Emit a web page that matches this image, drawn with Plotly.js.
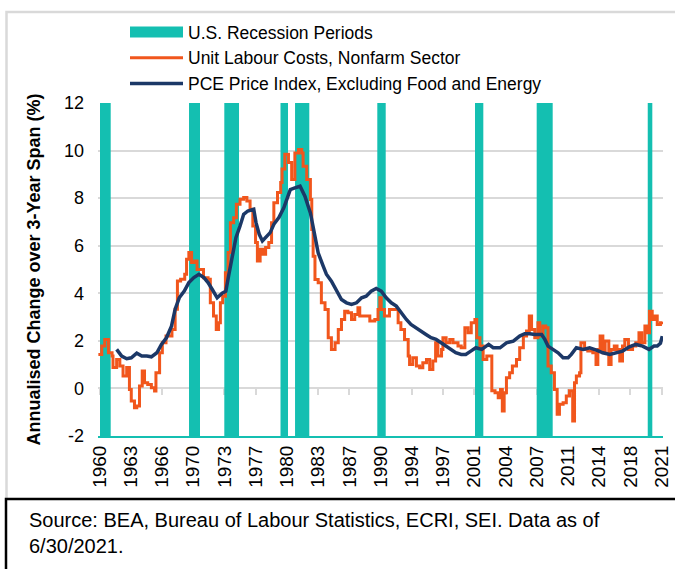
<!DOCTYPE html>
<html>
<head>
<meta charset="utf-8">
<script src="https://cdn.plot.ly/plotly-3.0.1.min.js"></script>
<style>
  html, body { margin: 0; padding: 0; background: #ffffff; }
  #chart { width: 675px; height: 569px; }
</style>
</head>
<body>
<div id="chart"></div>
<script>
// ---- Data ----
const recessionStart = [1960.18, 1969.92, 1973.78, 1979.93, 1981.52, 1990.52, 2001.21, 2007.96, 2020.11];
const recessionEnd   = [1961.35, 1971.12, 1975.39, 1980.75, 1983.08, 1991.44, 2002.12, 2009.71, 2020.61];

const ulcYears = [1960.0, 1960.37, 1960.7, 1961.1, 1961.5, 1961.6, 1962.0, 1962.35, 1962.7, 1963.1, 1963.4, 1963.6, 1963.95, 1964.2, 1964.5, 1964.8, 1965.05, 1965.4, 1965.8, 1966.15, 1966.3, 1966.7, 1967.0, 1967.4, 1967.75, 1968.05, 1968.4, 1968.65, 1969.0, 1969.45, 1969.65, 1969.9, 1970.2, 1970.55, 1970.8, 1971.15, 1971.5, 1972.0, 1972.25, 1972.6, 1972.9, 1973.15, 1973.35, 1973.6, 1973.9, 1974.2, 1974.45, 1974.8, 1975.1, 1975.5, 1975.9, 1976.25, 1976.6, 1976.9, 1977.2, 1977.4, 1977.7, 1978.0, 1978.3, 1978.65, 1978.95, 1979.2, 1979.6, 1979.95, 1980.1, 1980.4, 1980.8, 1981.15, 1981.5, 1981.9, 1982.25, 1982.4, 1982.8, 1983.2, 1983.35, 1983.5, 1983.7, 1984.05, 1984.4, 1984.8, 1985.15, 1985.5, 1985.9, 1986.25, 1986.6, 1986.95, 1987.3, 1987.7, 1988.05, 1988.4, 1988.6, 1989.15, 1989.7, 1990.25, 1990.6, 1990.8, 1990.95, 1991.3, 1991.7, 1991.85, 1992.4, 1992.8, 1993.1, 1993.5, 1993.9, 1994.05, 1994.4, 1994.8, 1995.15, 1995.5, 1995.9, 1996.25, 1996.6, 1996.9, 1997.15, 1997.55, 1997.7, 1998.05, 1998.45, 1998.8, 1999.35, 1999.7, 2000.1, 2000.45, 2000.8, 2001.2, 2001.4, 2001.75, 2002.1, 2002.5, 2002.85, 2003.05, 2003.4, 2003.75, 2004.0, 2004.2, 2004.4, 2004.65, 2005.0, 2005.3, 2005.75, 2006.1, 2006.5, 2006.85, 2007.15, 2007.4, 2007.75, 2008.1, 2008.3, 2008.65, 2008.95, 2009.2, 2009.55, 2009.9, 2010.2, 2010.45, 2010.85, 2011.2, 2011.55, 2011.9, 2012.1, 2012.3, 2012.65, 2012.8, 2013.2, 2013.55, 2014.1, 2014.45, 2014.65, 2014.9, 2015.2, 2015.45, 2015.85, 2016.1, 2016.45, 2016.75, 2017.05, 2017.35, 2017.6, 2018.0, 2018.45, 2018.8, 2019.15, 2019.45, 2019.8, 2020.05, 2020.3, 2020.6, 2020.9, 2021.15, 2021.5, 2021.7];
const ulcValues = [1.43, 1.78, 2.06, 1.5, 1.36, 0.88, 1.22, 0.94, 0.52, 0.88, -0.04, -0.53, -0.81, -0.74, 0.1, 0.73, 0.24, 0.17, 0.03, -0.11, 0.66, 1.5, 1.92, 2.2, 2.2, 2.48, 3.33, 4.52, 4.59, 4.8, 5.43, 5.71, 5.29, 5.36, 5.0, 5.0, 4.65, 4.59, 3.6, 3.04, 2.48, 2.76, 3.6, 3.88, 4.86, 5.71, 6.97, 7.18, 7.74, 7.95, 8.03, 7.88, 7.53, 6.83, 6.13, 5.36, 5.85, 5.64, 5.92, 6.13, 6.97, 7.81, 8.24, 8.66, 9.22, 9.85, 9.5, 8.78, 9.9, 10.04, 9.9, 9.34, 8.78, 7.94, 6.68, 5.56, 4.58, 4.44, 3.6, 3.32, 2.13, 1.64, 1.92, 2.48, 2.9, 3.25, 3.18, 2.9, 3.11, 3.39, 3.04, 3.04, 2.83, 2.9, 3.32, 3.81, 3.32, 3.04, 3.04, 3.32, 3.32, 2.76, 2.48, 2.06, 1.36, 1.01, 1.29, 0.94, 0.87, 1.08, 1.22, 0.8, 1.15, 1.92, 1.36, 1.64, 2.13, 1.92, 2.06, 1.92, 1.78, 1.71, 2.55, 2.34, 2.76, 2.9, 2.13, 1.78, 1.22, 1.36, 1.36, -0.1, -0.18, -0.39, -0.04, -0.95, -0.18, 0.45, 0.66, 0.94, 1.22, 1.71, 2.2, 2.41, 3.04, 2.48, 2.13, 2.76, 2.2, 2.62, 2.55, 0.94, 0.66, -0.04, -1.09, -0.67, -0.6, -0.32, -0.1, -1.37, 0.24, 0.52, 0.66, 1.92, 1.64, 1.57, 1.5, 1.01, 1.64, 2.2, 1.5, 1.99, 1.01, 1.64, 1.78, 1.64, 1.15, 1.78, 2.06, 1.64, 1.78, 1.92, 2.34, 1.92, 2.62, 2.34, 3.25, 2.9, 3.04, 2.69, 2.76, 2.8];

const pceYears = [1962.0, 1962.55, 1963.1, 1963.6, 1964.2, 1964.75, 1965.3, 1965.8, 1966.4, 1966.9, 1967.45, 1968.0, 1968.4, 1968.85, 1969.4, 1969.9, 1970.45, 1971.0, 1971.55, 1972.0, 1972.45, 1973.0, 1973.55, 1973.95, 1974.25, 1974.7, 1975.05, 1975.5, 1975.9, 1976.35, 1977.0, 1977.25, 1977.6, 1977.95, 1978.45, 1978.8, 1979.2, 1979.75, 1980.3, 1980.75, 1981.0, 1981.5, 1982.07, 1982.6, 1983.2, 1983.7, 1984.05, 1984.6, 1984.95, 1985.5, 1986.05, 1986.6, 1987.15, 1987.7, 1988.25, 1988.8, 1989.3, 1989.85, 1990.4, 1990.95, 1991.5, 1992.05, 1992.6, 1993.1, 1993.7, 1994.2, 1994.8, 1995.3, 1995.85, 1996.4, 1996.95, 1997.5, 1998.05, 1998.6, 1999.1, 1999.7, 2000.2, 2000.75, 2001.3, 2001.95, 2002.7, 2003.2, 2003.95, 2004.65, 2005.4, 2006.1, 2006.65, 2007.2, 2007.75, 2008.5, 2008.85, 2009.2, 2009.75, 2010.3, 2010.85, 2011.4, 2011.75, 2012.3, 2013.05, 2013.75, 2014.5, 2015.2, 2015.95, 2016.65, 2017.35, 2018.1, 2018.8, 2019.55, 2020.25, 2020.8, 2021.15, 2021.5, 2021.7];
const pceValues = [1.64, 1.36, 1.25, 1.29, 1.48, 1.36, 1.36, 1.33, 1.5, 1.85, 2.13, 2.62, 3.33, 3.81, 4.09, 4.45, 4.66, 4.8, 4.66, 4.45, 4.17, 3.81, 4.0, 4.09, 4.73, 5.71, 6.34, 6.83, 7.32, 7.46, 7.53, 6.97, 6.48, 6.2, 6.41, 6.55, 6.9, 7.18, 7.6, 8.1, 8.36, 8.43, 8.5, 8.08, 7.38, 6.39, 5.7, 5.14, 4.8, 4.51, 4.09, 3.74, 3.6, 3.53, 3.6, 3.81, 3.88, 4.09, 4.2, 4.09, 3.81, 3.6, 3.46, 3.18, 2.9, 2.69, 2.55, 2.41, 2.27, 2.13, 2.06, 1.92, 1.78, 1.61, 1.5, 1.43, 1.43, 1.57, 1.71, 1.64, 1.85, 1.71, 1.71, 1.92, 1.99, 2.2, 2.3, 2.3, 2.27, 2.27, 2.06, 1.78, 1.64, 1.5, 1.29, 1.29, 1.43, 1.71, 1.64, 1.71, 1.61, 1.5, 1.43, 1.5, 1.57, 1.75, 1.85, 1.78, 1.64, 1.78, 1.78, 1.9, 2.2];

const xTickLabels = ["1960", "1963", "1966", "1970", "1973", "1977", "1980", "1983", "1987", "1990", "1994", "1997", "2001", "2004", "2007", "2011", "2014", "2018", "2021"];
const yTickValues = [-2, 0, 2, 4, 6, 8, 10, 12];
const yTickLabels = ["-2", "0", "2", "4", "6", "8", "10", "12"];

// ---- Build traces ----
const Y_MIN = -2, Y_MAX = 12;
const recX = [], recY = [];
recessionStart.forEach((s, i) => {
  const e = recessionEnd[i];
  recX.push(s, s, e, e, s, null);
  recY.push(Y_MIN, Y_MAX, Y_MAX, Y_MIN, Y_MIN, null);
});

// tick positions every 41 months, starting at the first label
const tickVals = xTickLabels.map((_, k) => 1960.13 + k * 41 / 12);

const TEAL = '#14BFB1';
const ORANGE = '#F1561C';
const NAVY = '#1C3867';
const GRID = '#D9D9D9';
const FONT = 'Liberation Sans, Arial, sans-serif';

const traces = [
  {
    type: 'scatter', mode: 'lines', x: recX, y: recY,
    fill: 'toself', fillcolor: TEAL, line: {width: 0, color: TEAL},
    name: 'U.S. Recession Periods', hoverinfo: 'skip'
  },
  {
    type: 'scatter', mode: 'lines', x: ulcYears, y: ulcValues,
    line: {color: ORANGE, width: 3, shape: 'hv'},
    name: 'Unit Labour Costs, Nonfarm Sector'
  },
  {
    type: 'scatter', mode: 'lines', x: pceYears, y: pceValues,
    line: {color: NAVY, width: 3.5},
    name: 'PCE Price Index, Excluding Food and Energy'
  },
  {
    // invisible trace to activate the zero-line axis
    type: 'scatter', mode: 'lines', x: [recessionStart[0]], y: [0],
    xaxis: 'x2', showlegend: false, hoverinfo: 'skip', line: {width: 0}
  }
];

const X_RANGE = [1959.96, 2021.78];
// plot area geometry (px) for paper-coordinate decorations
const L = 98, R = 663, T = 103, B = 436;
const px = v => (v - L) / (R - L);
const py = v => (B - v) / (B - T);

const layout = {
  width: 675, height: 569,
  margin: {l: 98, r: 12, t: 103, b: 133},
  paper_bgcolor: '#ffffff', plot_bgcolor: '#ffffff',
  font: {family: FONT, color: '#000000', size: 16},
  showlegend: true,
  legend: {
    x: px(125), y: py(14), xanchor: 'left', yanchor: 'top',
    bgcolor: 'rgba(0,0,0,0)', font: {size: 17.5, family: FONT},
    itemwidth: 53, tracegroupgap: 0, traceorder: 'normal'
  },
  xaxis: {
    range: X_RANGE, showgrid: false, zeroline: false,
    showline: true, linecolor: TEAL, linewidth: 2,
    tickmode: 'array', tickvals: tickVals, ticktext: xTickLabels,
    tickangle: -90, ticks: '', tickfont: {size: 19, family: FONT},
    fixedrange: true
  },
  xaxis2: {
    range: X_RANGE, overlaying: 'x', anchor: 'free', position: 2 / 14,
    showgrid: false, zeroline: false, showline: false,
    tickmode: 'array', tickvals: tickVals, ticks: 'outside', ticklen: 6,
    tickwidth: 2, tickcolor: GRID, showticklabels: false, layer: 'below traces'
  },
  yaxis: {
    range: [Y_MIN, Y_MAX], tickmode: 'array', tickvals: yTickValues, ticktext: yTickLabels,
    showgrid: true, gridcolor: GRID, gridwidth: 2, zeroline: false,
    showline: false, ticks: '', ticklabelstandoff: 13,
    tickfont: {size: 18, family: FONT},
    title: {text: 'Annualised Change over 3-Year Span (%)', standoff: 18,
            font: {size: 18, family: FONT, weight: 'bold'}},
    fixedrange: true
  },
  shapes: [
    // light grey frame round the chart
    {type: 'path', xref: 'paper', yref: 'paper',
     path: `M ${px(680)} ${py(12)} L ${px(6.5)} ${py(12)} L ${px(6.5)} ${py(498)}`,
     line: {color: GRID, width: 2.5}},
    // black box for the source note
    {type: 'path', xref: 'paper', yref: 'paper',
     path: `M ${px(680)} ${py(499)} L ${px(6)} ${py(499)} L ${px(6)} ${py(580)}`,
     line: {color: '#000000', width: 2.5}}
  ],
  annotations: [
    {xref: 'paper', yref: 'paper', x: px(27), y: py(507), xanchor: 'left', yanchor: 'top',
     align: 'left', showarrow: false,
     text: 'Source: BEA, Bureau of Labour Statistics, ECRI, SEI. Data as of<br>6/30/2021.',
     font: {size: 20, family: FONT, color: '#000000'}}
  ]
};

Plotly.newPlot('chart', traces, layout, {staticPlot: true, displayModeBar: false}).then(gd => {
  // make the recession legend swatch a taller block, as in the reference
  gd.querySelectorAll('.legend .legendfill path').forEach(p => {
    const d = p.getAttribute('d') || '';
    const m = d.match(/h([\d.]+)/);
    if (m) {
      const w = m[1];
      p.setAttribute('d', `M5,-5.5h${w}v11h-${w}z`);
    }
  });
});
</script>
</body>
</html>
